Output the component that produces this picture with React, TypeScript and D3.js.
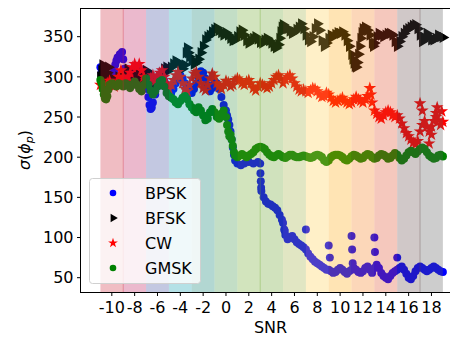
import React from 'react';
import * as d3 from 'd3';

// [SNR, sigma(phi_p)]
const bpsk: [number, number][] = [
  [-11, 312], [-10.9, 305], [-10.8, 298], [-10.6, 293], [-10.4, 290], [-10.2, 288], [-10, 292],
  [-9.9, 300], [-9.8, 308], [-9.7, 315], [-9.6, 320], [-9.5, 324], [-9.3, 328], [-9.1, 331],
  [-9.0, 322], [-8.9, 310], [-8.8, 300], [-8.6, 297], [-8.4, 300], [-8.2, 305], [-8.0, 300],
  [-7.8, 305], [-7.6, 310], [-7.4, 308], [-7.2, 305], [-7.0, 295], [-6.9, 285], [-6.8, 275],
  [-6.7, 265], [-6.6, 260], [-6.5, 262], [-6.4, 268], [-6.2, 278], [-6.0, 288], [-5.8, 296],
  [-5.6, 300], [-5.4, 295], [-5.2, 290], [-5.0, 285], [-4.8, 280], [-4.6, 285], [-4.4, 292],
  [-4.2, 298], [-4.0, 302], [-3.8, 298], [-3.6, 292], [-3.4, 288], [-3.2, 282], [-3.0, 280],
  [-2.8, 285], [-2.6, 292], [-2.4, 300], [-2.2, 307], [-2.0, 305], [-1.8, 298], [-1.6, 290],
  [-1.4, 282], [-1.2, 286], [-1.0, 295], [-0.8, 292], [-0.6, 285], [-0.4, 275], [-0.2, 265],
  [0.0, 258], [0.1, 252], [0.2, 247], [0.3, 240], [0.4, 232], [0.5, 222], [0.6, 212],
  [0.7, 203], [0.8, 196], [1.0, 192], [1.3, 190], [1.6, 192], [2.0, 194], [2.4, 192],
  [2.8, 194], [3.0, 192], [3.02, 180], [3.05, 170], [3.08, 162], [3.1, 158], [3.3, 150],
  [3.5, 145], [3.7, 142], [3.9, 141], [4.1, 139], [4.3, 137], [4.5, 134], [4.7, 128],
  [4.9, 122], [5.0, 118], [5.1, 110], [5.2, 103], [5.4, 98], [5.6, 100], [5.8, 102],
  [6.0, 98], [6.2, 94], [6.4, 92], [6.6, 90], [6.8, 88], [7.0, 85], [7.2, 80], [7.4, 76],
  [7.6, 73], [7.8, 70], [8.0, 68], [8.2, 66], [8.4, 64], [8.6, 62], [8.8, 60], [9.0, 60],
  [9.2, 58], [9.4, 56], [9.6, 57], [9.8, 60], [10.0, 62], [10.2, 60], [10.4, 57], [10.6, 55],
  [10.8, 58], [11.0, 60], [11.2, 62], [11.4, 60], [11.6, 57], [11.8, 56], [12.0, 58],
  [12.2, 62], [12.4, 64], [12.6, 60], [12.8, 56], [13.0, 62], [13.2, 66], [13.4, 62],
  [13.6, 56], [13.8, 52], [14.0, 50], [14.2, 48], [14.4, 52], [14.6, 56], [14.8, 58],
  [15.0, 60], [15.2, 62], [15.4, 64], [15.6, 60], [15.8, 55], [16.0, 50], [16.2, 48],
  [16.4, 52], [16.6, 58], [16.8, 62], [17.0, 64], [17.2, 62], [17.4, 60], [17.6, 58],
  [17.8, 60], [18.0, 62], [18.2, 64], [18.4, 62], [18.6, 60], [18.8, 58], [19.0, 57],
  // stray points
  [5.15, 108], [7.0, 110], [9.0, 90], [9.1, 75], [11.0, 102], [11.05, 85], [11.1, 68],
  [13.0, 100], [13.05, 82], [15.0, 75],
];

const bfsk: [number, number][] = [
  [-11, 300], [-10.9, 308], [-10.8, 315], [-10.7, 312], [-10.6, 300], [-10.5, 295], [-10.4, 305],
  [-10.3, 312], [-10.2, 300], [-10.0, 292], [-9.8, 290], [-9.6, 295], [-9.4, 300], [-9.2, 298],
  [-9.0, 305], [-8.8, 300], [-8.6, 310], [-8.4, 305], [-8.2, 298], [-8.0, 302], [-7.8, 308],
  [-7.6, 300], [-7.4, 295], [-7.2, 300], [-7.0, 308], [-6.8, 305], [-6.6, 298], [-6.4, 292],
  [-6.2, 290], [-6.0, 295], [-5.8, 300], [-5.6, 305], [-5.4, 310], [-5.2, 312], [-5.0, 308],
  [-4.8, 312], [-4.6, 316], [-4.4, 320], [-4.2, 318], [-4.0, 314], [-3.8, 310], [-3.6, 315],
  [-3.5, 330], [-3.4, 336], [-3.3, 330], [-3.2, 325], [-3.0, 320], [-2.8, 316], [-2.6, 318],
  [-2.4, 322], [-2.2, 330], [-2.0, 338], [-1.8, 346], [-1.6, 350], [-1.4, 352], [-1.2, 356],
  [-1.0, 359], [-0.8, 361], [-0.6, 358], [-0.4, 355], [-0.2, 352], [0.0, 355], [0.2, 352],
  [0.4, 348], [0.6, 345], [0.8, 346], [1.0, 350], [1.2, 356], [1.4, 358], [1.6, 352],
  [1.8, 345], [2.0, 342], [2.2, 345], [2.4, 348], [2.6, 350], [2.8, 347], [3.0, 343],
  [3.2, 342], [3.4, 346], [3.6, 348], [3.8, 345], [4.0, 342], [4.2, 338], [4.4, 336],
  [4.6, 340], [4.7, 348], [4.8, 356], [4.9, 362], [5.0, 365], [5.2, 362], [5.4, 360],
  [5.6, 357], [5.8, 354], [6.0, 356], [6.2, 359], [6.4, 362], [6.6, 366], [6.8, 360],
  [7.0, 352], [7.2, 346], [7.4, 344], [7.6, 350], [7.8, 360], [8.0, 366], [8.2, 358],
  [8.4, 345], [8.6, 338], [8.8, 342], [9.0, 348], [9.2, 352], [9.4, 350], [9.6, 353],
  [9.8, 355], [10.0, 354], [10.2, 356], [10.4, 352], [10.6, 345], [10.8, 338], [11.0, 328],
  [11.1, 322], [11.2, 317], [11.3, 313], [11.4, 312], [11.5, 318], [11.6, 328], [11.7, 338],
  [11.8, 348], [11.9, 355], [12.0, 360], [12.2, 362], [12.4, 358], [12.6, 352], [12.8, 342],
  [12.9, 338], [13.0, 342], [13.2, 350], [13.4, 354], [13.6, 352], [13.8, 350], [14.0, 352],
  [14.2, 354], [14.4, 354], [14.6, 352], [14.8, 344], [15.0, 338], [15.2, 344], [15.4, 350],
  [15.6, 354], [15.8, 358], [16.0, 360], [16.2, 362], [16.4, 364], [16.6, 365], [16.8, 360],
  [17.0, 352], [17.2, 344], [17.4, 348], [17.6, 354], [17.8, 350], [18.0, 346], [18.2, 346],
  [18.4, 348], [18.6, 352], [18.8, 350], [19.0, 349],
];

const cw: [number, number][] = [
  [-11, 290], [-10.8, 288], [-10.6, 286], [-10.4, 292], [-10.2, 295], [-10.0, 290], [-9.8, 288],
  [-9.6, 292], [-9.4, 300], [-9.2, 308], [-9.0, 300], [-8.8, 295], [-8.6, 300], [-8.4, 305],
  [-8.2, 312], [-8.0, 316], [-7.8, 312], [-7.6, 316], [-7.4, 308], [-7.2, 300], [-7.0, 296],
  [-6.8, 292], [-6.6, 298], [-6.4, 302], [-6.2, 295], [-6.0, 300], [-5.8, 305], [-5.6, 308],
  [-5.4, 300], [-5.2, 292], [-5.0, 285], [-4.8, 290], [-4.6, 296], [-4.4, 302], [-4.2, 306],
  [-4.0, 300], [-3.8, 292], [-3.6, 285], [-3.4, 282], [-3.2, 290], [-3.0, 298], [-2.8, 304],
  [-2.6, 306], [-2.4, 300], [-2.2, 292], [-2.0, 286], [-1.8, 283], [-1.6, 290], [-1.4, 298],
  [-1.2, 304], [-1.0, 300], [-0.8, 292], [-0.6, 288], [-0.4, 285], [-0.2, 290], [0.0, 295],
  [0.2, 293], [0.4, 288], [0.6, 290], [0.8, 296], [1.0, 298], [1.2, 296], [1.4, 292],
  [1.6, 290], [1.8, 294], [2.0, 296], [2.2, 292], [2.4, 286], [2.6, 283], [2.8, 288],
  [3.0, 292], [3.2, 290], [3.4, 288], [3.6, 286], [3.8, 288], [4.0, 292], [4.2, 296],
  [4.4, 300], [4.6, 302], [4.8, 298], [5.0, 292], [5.2, 296], [5.4, 300], [5.6, 302],
  [5.8, 298], [6.0, 292], [6.2, 288], [6.4, 284], [6.6, 282], [6.8, 284], [7.0, 282],
  [7.2, 280], [7.4, 283], [7.6, 286], [7.8, 285], [8.0, 282], [8.2, 278], [8.4, 275],
  [8.6, 276], [8.8, 280], [9.0, 278], [9.2, 274], [9.4, 270], [9.6, 268], [9.8, 270],
  [10.0, 272], [10.2, 274], [10.4, 270], [10.6, 268], [10.8, 266], [11.0, 268], [11.2, 272],
  [11.4, 275], [11.6, 272], [11.8, 270], [12.0, 268], [12.2, 272], [12.4, 276], [12.6, 286],
  [12.7, 278], [12.8, 268], [13.0, 258], [13.2, 254], [13.4, 250], [13.6, 248], [13.8, 252],
  [14.0, 256], [14.2, 258], [14.4, 256], [14.6, 252], [14.8, 250], [15.0, 252], [15.2, 248],
  [15.4, 242], [15.6, 236], [15.8, 230], [16.0, 226], [16.2, 222], [16.4, 218], [16.6, 216],
  [16.8, 220], [17.0, 232], [17.2, 240], [17.4, 245], [17.6, 238], [17.8, 232], [18.0, 238],
  [18.2, 245], [18.4, 250], [18.6, 246], [18.8, 240], [19.0, 244],
  // stray points
  [17.0, 267], [17.2, 258], [17.8, 217], [18.5, 262], [18.4, 255], [18.9, 257], [18.0, 228],
];

const gmsk: [number, number][] = [
  [-11, 296], [-10.9, 292], [-10.8, 285], [-10.7, 278], [-10.6, 273], [-10.5, 272], [-10.4, 276],
  [-10.3, 284], [-10.2, 290], [-10.0, 292], [-9.8, 290], [-9.6, 288], [-9.4, 292], [-9.2, 290],
  [-9.0, 288], [-8.8, 292], [-8.6, 290], [-8.4, 286], [-8.2, 290], [-8.0, 294], [-7.8, 290],
  [-7.6, 285], [-7.4, 282], [-7.2, 290], [-7.0, 298], [-6.8, 290], [-6.6, 283], [-6.4, 278],
  [-6.2, 282], [-6.0, 288], [-5.8, 294], [-5.6, 296], [-5.4, 288], [-5.2, 280], [-5.0, 276],
  [-4.8, 274], [-4.6, 272], [-4.4, 268], [-4.2, 266], [-4.0, 270], [-3.8, 274], [-3.6, 276],
  [-3.4, 272], [-3.2, 266], [-3.0, 262], [-2.8, 258], [-2.6, 256], [-2.4, 262], [-2.2, 258],
  [-2.0, 252], [-1.8, 246], [-1.6, 248], [-1.4, 256], [-1.2, 260], [-1.0, 256], [-0.8, 250],
  [-0.6, 248], [-0.4, 254], [-0.2, 258], [0.0, 250], [0.1, 240], [0.2, 232], [0.3, 226],
  [0.4, 228], [0.5, 222], [0.6, 214], [0.7, 206], [0.8, 202], [1.0, 200], [1.2, 202],
  [1.4, 204], [1.6, 202], [1.8, 200], [2.0, 202], [2.2, 204], [2.4, 206], [2.6, 210],
  [2.8, 212], [3.0, 213], [3.2, 212], [3.4, 210], [3.6, 206], [3.8, 203], [4.0, 201],
  [4.2, 200], [4.4, 202], [4.6, 204], [4.8, 202], [5.0, 200], [5.2, 199], [5.4, 201],
  [5.6, 203], [5.8, 203], [6.0, 201], [6.2, 200], [6.4, 200], [6.6, 201], [6.8, 202],
  [7.0, 201], [7.2, 200], [7.4, 199], [7.6, 200], [7.8, 202], [8.0, 203], [8.2, 202],
  [8.4, 200], [8.6, 196], [8.8, 194], [9.0, 196], [9.2, 200], [9.4, 202], [9.6, 203],
  [9.8, 203], [10.0, 202], [10.2, 200], [10.4, 197], [10.6, 196], [10.8, 198], [11.0, 201],
  [11.2, 203], [11.4, 202], [11.6, 200], [11.8, 198], [12.0, 199], [12.2, 202], [12.4, 204],
  [12.6, 203], [12.8, 200], [13.0, 198], [13.2, 199], [13.4, 202], [13.6, 204], [13.8, 203],
  [14.0, 201], [14.2, 198], [14.4, 199], [14.6, 202], [14.8, 205], [15.0, 203], [15.2, 199],
  [15.4, 196], [15.6, 198], [15.8, 202], [16.0, 206], [16.2, 208], [16.4, 206], [16.6, 204],
  [16.8, 207], [17.0, 210], [17.2, 212], [17.4, 210], [17.6, 206], [17.8, 202], [18.0, 200],
  [18.2, 198], [18.4, 199], [18.6, 202], [18.8, 203], [19.0, 201],
];

const seriesNames = ['BPSK', 'BFSK', 'CW', 'GMSK'];
const seriesColors = ['#0000ff', '#000000', '#ff0000', '#008000'];

// one shaded span per SNR level, [snr-1, snr+1]
const bandCenters = [-10, -8, -6, -4, -2, 0, 2, 4, 6, 8, 10, 12, 14, 16, 18];
const bandColors = [
  '#cd2637', '#bc1658', '#37489b', '#059bac', '#007a69', '#379141', '#69a526', '#64a026',
  '#9bac37', '#ffcd48', '#ffa505', '#f57a16', '#de4826', '#624848', '#585858',
];
const edgeLines = [-9, 3, 17];

const xTicks = [-10, -8, -6, -4, -2, 0, 2, 4, 6, 8, 10, 12, 14, 16, 18];
const yTicks = [50, 100, 150, 200, 250, 300, 350];

export default function App() {
  const width = 450;
  const height = 339;
  const left = 81;
  const right = 460;
  const top = 8;
  const bottom = 292;

  const x = d3.scaleLinear().domain([-12.7, 20.5]).range([left, right]);
  const y = d3.scaleLinear().domain([32.2, 385.7]).range([bottom, top]);

  const shapes = [
    d3.symbol(d3.symbolCircle, 50)(),
    d3.symbol(d3.symbolTriangle, 55)(),
    d3.symbol(d3.symbolStar, 50)(),
    d3.symbol(d3.symbolCircle, 52)(),
  ];
  const legendShapes = [
    d3.symbol(d3.symbolCircle, 34)(),
    d3.symbol(d3.symbolTriangle, 30)(),
    d3.symbol(d3.symbolStar, 30)(),
    d3.symbol(d3.symbolCircle, 34)(),
  ];
  const rot = [0, 90, 0, 0];
  const data = [bpsk, bfsk, cw, gmsk];
  const font = 'DejaVu Sans, sans-serif';

  return (
    <svg width={width} height={height} style={{ position: 'absolute', left: 0, top: 0 }} fontFamily={font}>
      <defs>
        <clipPath id="plot">
          <rect x={left} y={top} width={right - left} height={bottom - top} />
        </clipPath>
      </defs>
      <rect x={0} y={0} width={width} height={height} fill="#fff" />
      <g clipPath="url(#plot)">
        {data.map((pts, si) => (
          <g key={si} fill={seriesColors[si]}>
            {pts.map((p, i) => (
              <path key={i} d={shapes[si] as string}
                transform={`translate(${x(p[0])},${y(p[1])}) rotate(${rot[si]})`} />
            ))}
          </g>
        ))}
        {bandCenters.map((c, i) => (
          <rect key={c} x={x(c - 1)} y={top} width={x(c + 1) - x(c - 1)} height={bottom - top}
            fill={bandColors[i]} fillOpacity={0.3} />
        ))}
        {edgeLines.map((e) => {
          const idx = bandCenters.findIndex((c) => e >= c - 1 && e < c + 1);
          return (
            <line key={e} x1={x(e)} x2={x(e)} y1={top} y2={bottom}
              stroke={bandColors[Math.max(0, idx - 1)]} strokeOpacity={0.35} strokeWidth={1} />
          );
        })}
      </g>
      {/* spines */}
      <line x1={left} x2={width} y1={top + 0.5} y2={top + 0.5} stroke="#000" strokeWidth={1} />
      <line x1={left} x2={width} y1={bottom + 0.5} y2={bottom + 0.5} stroke="#000" strokeWidth={1} />
      <line x1={left - 0.5} x2={left - 0.5} y1={top} y2={bottom + 1} stroke="#000" strokeWidth={1} />
      {/* y axis */}
      {yTicks.map((t) => (
        <g key={t}>
          <line x1={left - 4} x2={left} y1={y(t)} y2={y(t)} stroke="#000" />
          <text x={left - 7.5} y={y(t)} dy="0.36em" textAnchor="end" fontSize={16}>{t}</text>
        </g>
      ))}
      {/* x axis */}
      {xTicks.map((t) => (
        <g key={t}>
          <line x1={x(t)} x2={x(t)} y1={bottom} y2={bottom + 4} stroke="#000" />
          <text x={x(t)} y={313} textAnchor="middle" fontSize={16}>{t < 0 ? `-${-t}` : t}</text>
        </g>
      ))}
      <text x={(left + right) / 2} y={333} textAnchor="middle" fontSize={16}>SNR</text>
      <text transform={`translate(30,${(top + bottom) / 2}) rotate(-90)`} textAnchor="middle" fontSize={16}>
        <tspan fontStyle="italic">σ</tspan>
        <tspan>(</tspan>
        <tspan fontStyle="italic">ϕ</tspan>
        <tspan fontStyle="italic" fontSize={11} dy={3}>p</tspan>
        <tspan dy={-3}>)</tspan>
      </text>
      {/* legend */}
      <g>
        <rect x={89.5} y={178.5} width={111} height={105} rx={3} fill="#fff" fillOpacity={0.8} stroke="#d0d0d0" />
        {seriesNames.map((n, i) => (
          <g key={n} transform={`translate(0,${193 + i * 25})`}>
            <path d={legendShapes[i] as string} fill={seriesColors[i]} transform={`translate(113,0) rotate(${rot[i]})`} />
            <text x={145} y={0} dy="0.36em" fontSize={16}>{n}</text>
          </g>
        ))}
      </g>
    </svg>
  );
}
